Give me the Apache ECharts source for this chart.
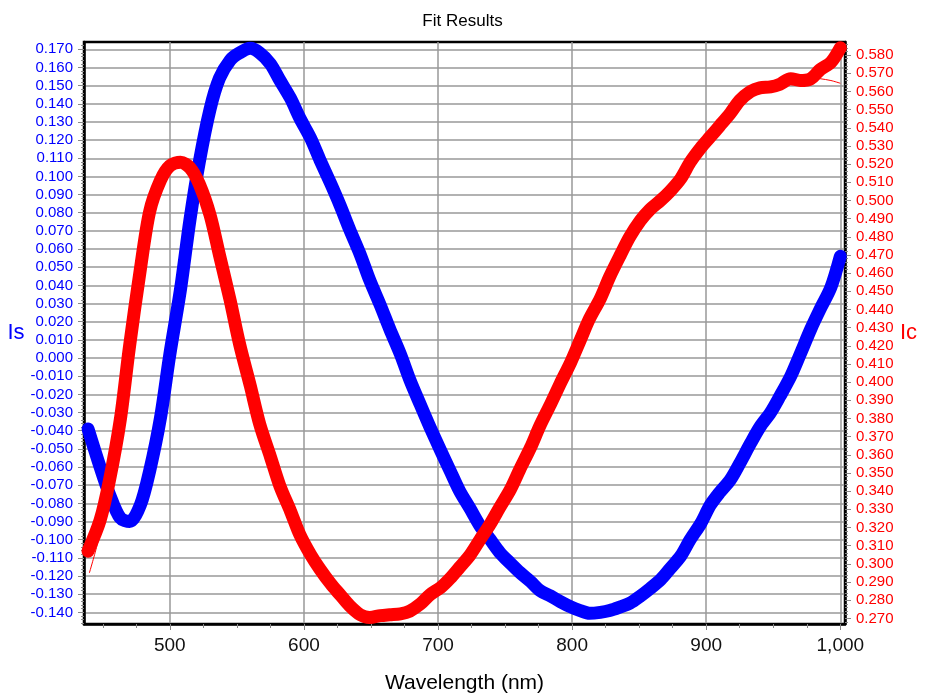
<!DOCTYPE html>
<html>
<head>
<meta charset="utf-8">
<title>Fit Results</title>
<script src="https://cdn.jsdelivr.net/npm/echarts@6/dist/echarts.min.js"></script>
<style>
  html, body { margin: 0; padding: 0; background: #fff; }
  #chart { width: 925px; height: 699px; }
</style>
</head>
<body>
<div id="chart"></div>
<script>
// wavelengths (nm) the curves were read at
const wavelength = [439, 448, 455, 463, 470, 478, 485, 493, 500, 508, 515, 522, 530, 537, 545, 552, 560, 567, 575, 582,
  590, 597, 605, 612, 620, 627, 634, 642, 649, 657, 664, 672, 679, 687, 694, 702, 709, 716, 724, 731,
  739, 746, 754, 761, 769, 776, 784, 791, 799, 806, 813, 821, 828, 836, 843, 851, 858, 866, 873, 881,
  888, 896, 903, 910, 918, 925, 933, 940, 948, 955, 963, 970, 978, 985, 993, 1000];

// Is (left axis, blue)
const isValues = [-0.039, -0.060, -0.075, -0.088, -0.090, -0.081, -0.062, -0.033, 0.002, 0.038, 0.076, 0.108, 0.137, 0.154, 0.164, 0.168, 0.1705, 0.168, 0.162, 0.153,
  0.143, 0.132, 0.121, 0.109, 0.096, 0.084, 0.071, 0.057, 0.043, 0.029, 0.016, 0.002, -0.012, -0.026, -0.038, -0.051, -0.062, -0.073, -0.083, -0.092,
  -0.100, -0.107, -0.113, -0.118, -0.123, -0.128, -0.131, -0.134, -0.137, -0.139, -0.1405, -0.140, -0.139, -0.137, -0.135, -0.131, -0.127, -0.122, -0.116, -0.109,
  -0.100, -0.091, -0.081, -0.074, -0.067, -0.058, -0.047, -0.038, -0.030, -0.021, -0.010, 0.002, 0.016, 0.027, 0.039, 0.056];

// Ic (right axis, red)
const icValues = [0.307, 0.324, 0.346, 0.379, 0.420, 0.462, 0.494, 0.511, 0.519, 0.521, 0.518, 0.509, 0.492, 0.470, 0.445, 0.421, 0.398, 0.377, 0.359, 0.343,
  0.329, 0.316, 0.305, 0.297, 0.289, 0.283, 0.277, 0.272, 0.2705, 0.2715, 0.272, 0.2725, 0.274, 0.278, 0.283, 0.287, 0.292, 0.298, 0.305, 0.313,
  0.322, 0.331, 0.341, 0.352, 0.364, 0.376, 0.388, 0.399, 0.411, 0.423, 0.435, 0.446, 0.458, 0.470, 0.480, 0.489, 0.495, 0.500, 0.505, 0.512,
  0.521, 0.529, 0.535, 0.541, 0.548, 0.555, 0.560, 0.562, 0.5625, 0.564, 0.567, 0.566, 0.567, 0.572, 0.576, 0.584];

// thin fit curves
const fitWavelength = [440, 446, 452, 460, 470, 485, 500, 515, 530, 545, 560, 575, 590, 605, 620, 635, 650, 665, 680, 695,
  710, 725, 740, 755, 770, 785, 800, 815, 830, 845, 860, 875, 890, 905, 920, 935, 950, 965, 975, 985, 993, 1000];
const isFit = [-0.041, -0.056, -0.069, -0.084, -0.090, -0.062, 0.002, 0.076, 0.137, 0.164, 0.1705, 0.162, 0.143, 0.121, 0.096, 0.069, 0.041, 0.013, -0.013, -0.040,
  -0.063, -0.084, -0.101, -0.114, -0.124, -0.132, -0.137, -0.1405, -0.139, -0.135, -0.127, -0.115, -0.098, -0.079, -0.064, -0.044, -0.027, -0.006, 0.008, 0.026, 0.039, 0.056];
const icFit = [0.295, 0.311, 0.332, 0.368, 0.420, 0.494, 0.519, 0.518, 0.492, 0.445, 0.398, 0.359, 0.329, 0.305, 0.289, 0.277, 0.2705, 0.272, 0.274, 0.282,
  0.293, 0.307, 0.324, 0.343, 0.366, 0.390, 0.413, 0.437, 0.461, 0.482, 0.496, 0.507, 0.521, 0.536, 0.550, 0.561, 0.563, 0.566, 0.568, 0.567, 0.566, 0.5645];

// tick values
const xTicks = [500, 600, 700, 800, 900, 1000];
const isTicks = [-0.14, -0.13, -0.12, -0.11, -0.10, -0.09, -0.08, -0.07, -0.06, -0.05, -0.04, -0.03, -0.02, -0.01, 0,
  0.01, 0.02, 0.03, 0.04, 0.05, 0.06, 0.07, 0.08, 0.09, 0.10, 0.11, 0.12, 0.13, 0.14, 0.15, 0.16, 0.17];
const icTicks = [0.27, 0.28, 0.29, 0.30, 0.31, 0.32, 0.33, 0.34, 0.35, 0.36, 0.37, 0.38, 0.39, 0.40, 0.41, 0.42,
  0.43, 0.44, 0.45, 0.46, 0.47, 0.48, 0.49, 0.50, 0.51, 0.52, 0.53, 0.54, 0.55, 0.56, 0.57, 0.58];

const pair = (xs, ys) => xs.map((x, i) => [x, ys[i]]);

const chart = echarts.init(document.getElementById('chart'));
chart.setOption({
  animation: false,
  textStyle: { fontFamily: 'Liberation Sans, Arial, sans-serif' },
  title: {
    text: 'Fit Results',
    left: 'center',
    top: 8,
    textStyle: { fontSize: 17, fontWeight: 'normal', color: '#000' }
  },
  grid: {
    left: 84, right: 80, top: 42, bottom: 75,
    show: true, borderColor: '#000', borderWidth: 2.5, backgroundColor: '#fff'
  },
  xAxis: {
    type: 'value',
    min: 436, max: 1003.5,
    minInterval: 100, maxInterval: 100,
    name: 'Wavelength (nm)',
    nameLocation: 'middle',
    nameGap: 49,
    nameTextStyle: { fontSize: 21, color: '#000' },
    axisLine: { onZero: false, lineStyle: { color: '#000', width: 2.5 } },
    axisTick: { customValues: xTicks, length: 6, lineStyle: { color: '#888' } },
    minorTick: { show: true, splitNumber: 4, length: 4, lineStyle: { color: '#888' } },
    axisLabel: {
      customValues: xTicks, margin: 12, fontSize: 19, color: '#111',
      formatter: v => v.toLocaleString('en-US')
    },
    splitLine: { show: true, lineStyle: { color: '#999', width: 1.5 } }
  },
  yAxis: [{
    type: 'value',
    position: 'left',
    min: -0.1464, max: 0.1740,
    minInterval: 0.01, maxInterval: 0.01,
    name: 'Is',
    nameLocation: 'middle',
    nameRotate: 0,
    nameGap: 59,
    nameTextStyle: { fontSize: 22, color: '#0000ff' },
    axisLine: { show: true, onZero: false, lineStyle: { color: '#000', width: 2.5 } },
    axisTick: { customValues: isTicks, length: 6, lineStyle: { color: '#888' } },
    minorTick: { show: true, splitNumber: 5, length: 3, lineStyle: { color: '#888' } },
    axisLabel: {
      customValues: isTicks, margin: 11, fontSize: 15, color: '#0000ff',
      formatter: v => v.toFixed(3)
    },
    splitLine: { show: true, lineStyle: { color: '#999', width: 1.5 } }
  }, {
    type: 'value',
    position: 'right',
    min: 0.2669, max: 0.5872,
    minInterval: 0.01, maxInterval: 0.01,
    name: 'Ic',
    nameLocation: 'middle',
    nameRotate: 0,
    nameGap: 55,
    nameTextStyle: { fontSize: 22, color: '#ff0000' },
    axisLine: { show: true, onZero: false, lineStyle: { color: '#000', width: 2.5 } },
    axisTick: { customValues: icTicks, length: 6, lineStyle: { color: '#888' } },
    minorTick: { show: true, splitNumber: 5, length: 3, lineStyle: { color: '#888' } },
    axisLabel: {
      customValues: icTicks, margin: 11, fontSize: 15, color: '#ff0000',
      formatter: v => v.toFixed(3)
    },
    splitLine: { show: false }
  }],
  series: [{
    name: 'Is',
    type: 'line',
    yAxisIndex: 0,
    symbol: 'none',
    smooth: 0.3,
    lineStyle: { color: '#0000ff', width: 13, cap: 'round', join: 'round' },
    data: pair(wavelength, isValues)
  }, {
    name: 'Is fit',
    type: 'line',
    yAxisIndex: 0,
    symbol: 'none',
    smooth: 0.3,
    lineStyle: { color: '#0000ff', width: 1 },
    data: pair(fitWavelength, isFit)
  }, {
    name: 'Ic',
    type: 'line',
    yAxisIndex: 1,
    symbol: 'none',
    smooth: 0.3,
    lineStyle: { color: '#ff0000', width: 13, cap: 'round', join: 'round' },
    data: pair(wavelength, icValues)
  }, {
    name: 'Ic fit',
    type: 'line',
    yAxisIndex: 1,
    symbol: 'none',
    smooth: 0.3,
    lineStyle: { color: '#ff0000', width: 1 },
    data: pair(fitWavelength, icFit)
  }]
});
</script>
</body>
</html>
